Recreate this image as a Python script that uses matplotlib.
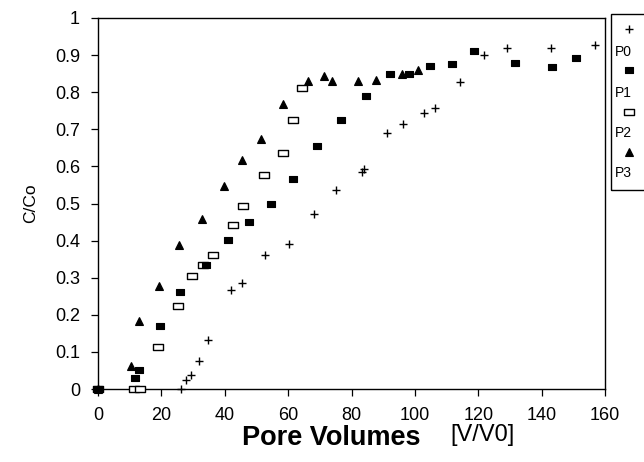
import matplotlib
matplotlib.use("Agg")
import matplotlib.pyplot as plt
from matplotlib.lines import Line2D
from matplotlib.patches import Rectangle
from matplotlib.path import Path

plt.rcParams['font.family'] = ['Liberation Sans', 'DejaVu Sans']

# Breakthrough data: pore volumes (V/V0) vs relative concentration C/Co
p0_x = [0, 26.3, 27.9, 29.5, 31.8, 34.6, 42.0, 45.6, 52.8, 60.4, 68.2, 75.2, 83.3, 83.9,
        91.3, 96.3, 102.8, 106.2, 114.1, 121.9, 129.0, 142.9, 157.0]
p0_y = [0, 0, 0.024, 0.038, 0.076, 0.133, 0.266, 0.287, 0.361, 0.391, 0.471, 0.536, 0.584,
        0.594, 0.690, 0.713, 0.744, 0.757, 0.827, 0.901, 0.919, 0.919, 0.926]

p1_x = [0, 11.6, 13.0, 19.5, 25.8, 34.0, 41.0, 47.6, 54.6, 61.4, 69.0, 76.8, 84.5, 92.1,
        98.1, 104.9, 111.7, 118.6, 131.7, 143.2, 150.8]
p1_y = [0, 0.029, 0.051, 0.170, 0.261, 0.335, 0.401, 0.450, 0.498, 0.567, 0.655, 0.725,
        0.791, 0.848, 0.848, 0.870, 0.877, 0.910, 0.878, 0.869, 0.892]

p2_x = [0, 11.3, 13.2, 19.0, 25.3, 29.8, 33.1, 36.3, 42.5, 45.7, 52.4, 58.4, 61.4, 64.4]
p2_y = [0, 0, 0, 0.113, 0.225, 0.305, 0.335, 0.361, 0.441, 0.493, 0.578, 0.636, 0.725, 0.811]

p3_x = [0, 10.3, 12.9, 19.3, 25.6, 32.9, 39.7, 45.5, 51.3, 58.5, 66.4, 71.4, 74.0, 81.9,
        87.8, 96.0, 100.9]
p3_y = [0, 0.062, 0.182, 0.277, 0.388, 0.457, 0.547, 0.617, 0.675, 0.768, 0.829, 0.843,
        0.829, 0.830, 0.834, 0.850, 0.860]

series_names = ['P0', 'P1', 'P2', 'P3']
x_ticks = [0, 20, 40, 60, 80, 100, 120, 140, 160]
y_ticks = [0, 0.1, 0.2, 0.3, 0.4, 0.5, 0.6, 0.7, 0.8, 0.9, 1]
y_tick_labels = ['0', '0.1', '0.2', '0.3', '0.4', '0.5', '0.6', '0.7', '0.8', '0.9', '1']

# slightly wide rectangle marker
rect = Path([(-1, -0.75), (1, -0.75), (1, 0.75), (-1, 0.75), (-1, -0.75)],
            [Path.MOVETO, Path.LINETO, Path.LINETO, Path.LINETO, Path.CLOSEPOLY])

styles = [
    dict(marker='+', ms=6, mew=1.0, mfc='black', mec='black'),
    dict(marker=rect, ms=6, mew=0.8, mfc='black', mec='black'),
    dict(marker=rect, ms=6.5, mew=1.0, mfc='white', mec='black'),
    dict(marker='^', ms=6, mew=0.8, mfc='black', mec='black'),
]
zorders = [3, 5, 4, 3]

fig = plt.figure(figsize=(6.44, 4.62), dpi=100)
ax = fig.add_axes([98 / 644, 1 - 389 / 462, (605 - 98) / 644, (389 - 18) / 462])

data = [(p0_x, p0_y), (p1_x, p1_y), (p2_x, p2_y), (p3_x, p3_y)]
for (xs, ys), st, z in zip(data, styles, zorders):
    ax.plot(xs, ys, linestyle='none', color='black', clip_on=False, zorder=z, **st)

ax.set_xlim(0, 160)
ax.set_ylim(0, 1)
ax.set_xticks(x_ticks)
ax.set_yticks(y_ticks)
ax.set_yticklabels(y_tick_labels)
ax.tick_params(axis='both', direction='out', length=5, width=0.9, labelsize=13,
               pad=8, colors='black')
for s in ax.spines.values():
    s.set_linewidth(1.0)
    s.set_color('black')

ax.set_ylabel('C/Co', fontsize=12.5, labelpad=12)

fig.text(331 / 644, 1 - 438 / 462, 'Pore Volumes', fontsize=19.5, fontweight='bold',
         ha='center', va='center')
fig.text(483 / 644, 1 - 435 / 462, '[V/V0]', fontsize=17, ha='center', va='center')

# legend box: marker above each label
fig.add_artist(Rectangle((611 / 644, 1 - 190 / 462), 50 / 644, (190 - 14) / 462,
                         transform=fig.transFigure, fill=False, edgecolor='black',
                         linewidth=1.0, clip_on=False))
marker_y = [29, 70, 112, 152]
label_y = [52, 93, 133, 173]
for name, st, my, ly in zip(series_names, styles, marker_y, label_y):
    fig.add_artist(Line2D([629 / 644], [1 - my / 462], transform=fig.transFigure,
                          linestyle='none', color='black', **st))
    fig.text(615 / 644, 1 - ly / 462, name, fontsize=10, ha='left', va='center')

fig.savefig('out.png', dpi=100, facecolor='white')
